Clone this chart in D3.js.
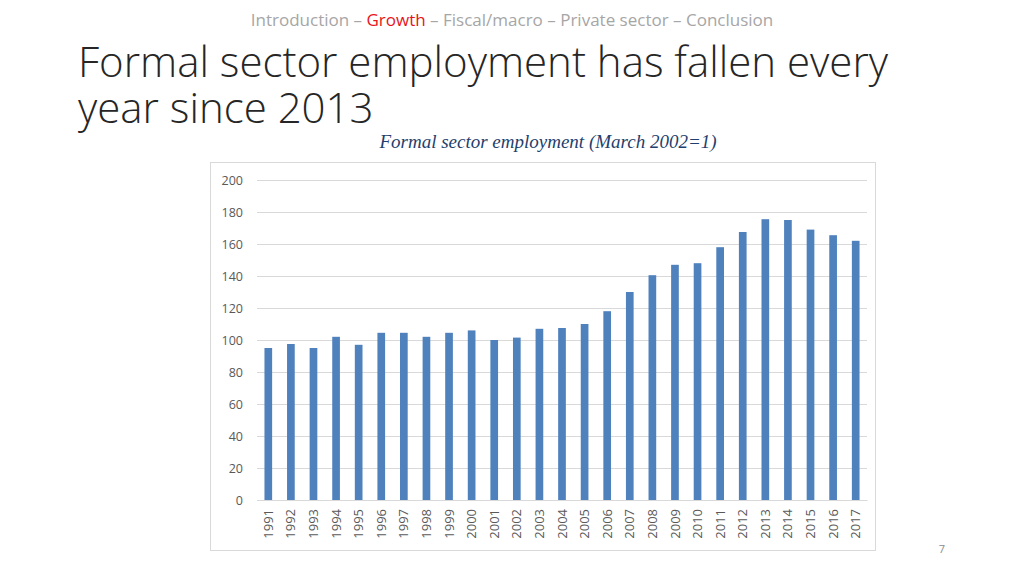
<!DOCTYPE html>
<html>
<head>
<meta charset="utf-8">
<script src="https://cdn.jsdelivr.net/npm/d3@7"></script>
<style>
  body { margin: 0; background: #fff; }
  svg { display: block; }
</style>
</head>
<body>
<script>
// data
var years = ["1991","1992","1993","1994","1995","1996","1997","1998","1999","2000",
             "2001","2002","2003","2004","2005","2006","2007","2008","2009","2010",
             "2011","2012","2013","2014","2015","2016","2017"];
var employment = [95, 97.5, 95, 102, 97, 104.5, 104.5, 102, 104.5, 106,
                  100, 101.5, 107, 107.5, 110, 118, 130, 140.5, 147, 148,
                  158, 167.5, 175.5, 175, 169, 165.5, 162];
var yTicks = [0, 20, 40, 60, 80, 100, 120, 140, 160, 180, 200];
var navItems = ["Introduction", "Growth", "Fiscal/macro", "Private sector", "Conclusion"];

var svg = d3.select("body").append("svg")
    .attr("width", 1024)
    .attr("height", 576);

// nav line at the top
var nav = svg.append("text")
    .attr("x", 512).attr("y", 26)
    .attr("text-anchor", "middle")
    .style("font-family", "'Open Sans', sans-serif")
    .style("font-size", "17px")
    .style("fill", "#a6a6a6");
navItems.forEach(function(d, i) {
  if (i > 0) nav.append("tspan").text(" \u2013 ");
  nav.append("tspan").text(d).style("fill", d == "Growth" ? "#e8141b" : "#a6a6a6");
});

// slide title
var title = svg.append("text")
    .style("font-family", "'Open Sans', sans-serif")
    .style("font-weight", 300)
    .style("font-size", "42px")
    .style("fill", "#262626");
title.append("tspan").attr("x", 78).attr("y", 77).text("Formal sector employment has fallen every");
title.append("tspan").attr("x", 78).attr("y", 123).text("year since 2013");

svg.append("text")
    .attr("x", 548).attr("y", 148)
    .attr("text-anchor", "middle")
    .style("font-family", "'Liberation Serif', serif")
    .style("font-style", "italic")
    .style("font-size", "19px")
    .style("fill", "#1f3f6e")
    .text("Formal sector employment (March 2002=1)");

// chart frame
svg.append("rect")
    .attr("x", 210.5).attr("y", 162.5)
    .attr("width", 665).attr("height", 388)
    .attr("fill", "#fff")
    .attr("stroke", "#d9d9d9");

var margin = {top: 180, left: 257},
    width = 867 - 257,
    height = 500 - 180;

var g = svg.append("g")
    .attr("transform", "translate(" + margin.left + "," + margin.top + ")");

var x = d3.scaleBand()
    .domain(years)
    .range([0, width])
    .paddingInner(0.66)
    .paddingOuter(0.33);
var y = d3.scaleLinear()
    .domain([0, 200])
    .range([height, 0]);

// gridlines + y labels
var yAxis = g.append("g")
    .call(d3.axisLeft(y).tickValues(yTicks).tickSize(-width).tickPadding(14));
yAxis.select(".domain").remove();
yAxis.selectAll(".tick line").attr("stroke", "#d9d9d9");
yAxis.selectAll(".tick text")
    .style("font-family", "'Open Sans', sans-serif")
    .style("font-size", "12.5px")
    .style("fill", "#595959");

// bars
g.selectAll(".bar")
    .data(employment)
  .enter().append("rect")
    .attr("class", "bar")
    .attr("x", function(d, i) { return x(years[i]); })
    .attr("width", x.bandwidth())
    .attr("y", function(d) { return y(d); })
    .attr("height", function(d) { return height - y(d); })
    .attr("fill", "#4f81bd");

// x axis
var xAxis = g.append("g")
    .attr("transform", "translate(0," + height + ")")
    .call(d3.axisBottom(x).tickSize(0).tickPadding(0));
xAxis.select(".domain").attr("stroke", "#d9d9d9");
xAxis.selectAll(".tick text")
    .attr("transform", "rotate(-90)")
    .attr("x", -9).attr("y", 0).attr("dy", "0.35em")
    .style("text-anchor", "end")
    .style("font-family", "'Open Sans', sans-serif")
    .style("font-size", "13px")
    .style("fill", "#595959");

// page number
svg.append("text")
    .attr("x", 942).attr("y", 553)
    .attr("text-anchor", "middle")
    .style("font-family", "'Open Sans', sans-serif")
    .style("font-size", "11px")
    .style("fill", "#8c8c8c")
    .text("7");
</script>
</body>
</html>
